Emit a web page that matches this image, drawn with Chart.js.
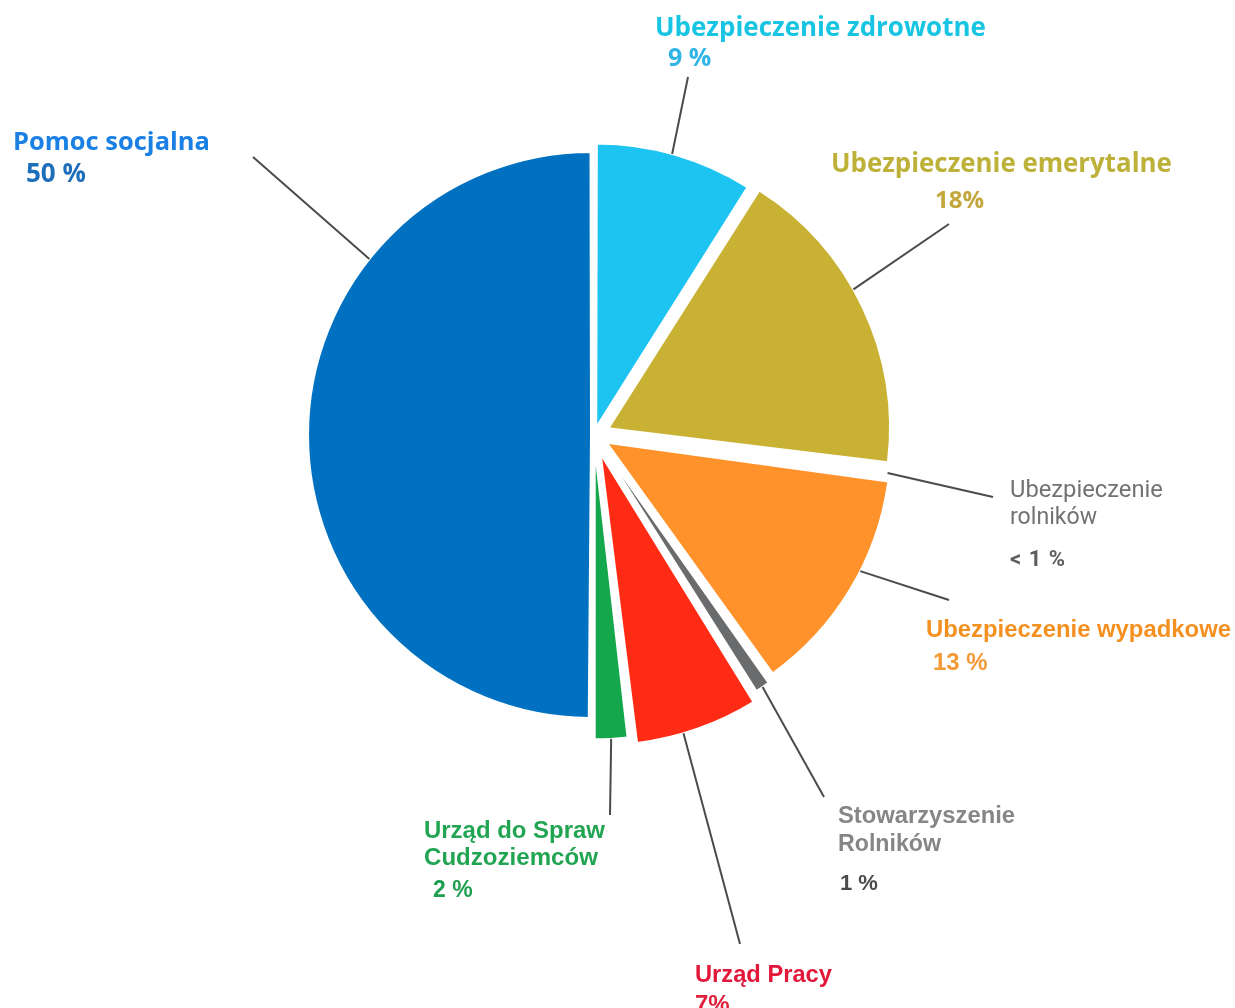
<!DOCTYPE html>
<html lang="pl">
<head>
<meta charset="utf-8">
<title>Struktura wydatków</title>
<script src="https://cdn.jsdelivr.net/npm/chart.js@4.4.1/dist/chart.umd.min.js"></script>
<style>
  html, body { margin: 0; padding: 0; background: #ffffff; }
  #wrap { width: 1235px; height: 1008px; overflow: hidden; }
  canvas { display: block; }
</style>
</head>
<body>
<div id="wrap"><canvas id="chart" width="1235" height="1008"></canvas></div>
<script>
// Categories, clockwise from 12 o'clock (multi-line names as arrays)
const categories = [
  ['Ubezpieczenie zdrowotne'],
  ['Ubezpieczenie emerytalne'],
  ['Ubezpieczenie', 'rolników'],
  ['Ubezpieczenie wypadkowe'],
  ['Stowarzyszenie', 'Rolników'],
  ['Urząd Pracy'],
  ['Urząd do Spraw', 'Cudzoziemców'],
  ['Pomoc socjalna']
];
// Shares in percent
const shares = [9, 18, 0.2, 13, 1, 7, 2, 50];
// Value captions as printed
const shareLabels = ['9 %', '18%', '< 1 %', '13 %', '1 %', '7%', '2 %', '50 %'];

// Slice fills (the sub-1 % slice is only a sliver of white space)
const sliceColors = ['#1ec4f1', '#c9b133', 'rgba(255,255,255,0)', '#ff922a', '#6a6b6d', '#ff2b14', '#14a74b', '#0071c1'];
const sliceBorders = ['#ffffff', '#ffffff', 'rgba(255,255,255,0)', '#ffffff', '#ffffff', '#ffffff', '#ffffff', '#ffffff'];
// How far each slice is pulled out (Chart.js offset units)
const sliceOffsets = [32, 64, 64, 60, 48, 80, 52, 12];

// Callout placement: anchor = fraction along the slice arc, end = outer end of leader line
const callouts = [
  { anchor: 0.48, end: [688, 77],
    lines: [{ x: 655, y: 36, w: 331, family: 'Open Sans', weight: 700, color: '#17c5e3' }],
    value: { x: 668, y: 66, size: 25, family: 'Open Sans', weight: 700, color: '#2fb4e6' } },
  { anchor: 0.435, end: [949, 224],
    lines: [{ x: 831, y: 172, w: 341, family: 'Open Sans', weight: 700, color: '#bdb13a' }],
    value: { x: 935, y: 208, size: 24, family: 'Open Sans', weight: 700, color: '#c3a73c' } },
  { anchor: 0.5, end: [993, 497], flush: true,
    lines: [{ x: 1010, y: 497, w: 153, family: 'Roboto', weight: 400, color: '#727272' },
            { x: 1010, y: 524, w: 87, family: 'Roboto', weight: 400, color: '#727272' }],
    value: { x: 1010, y: 566, size: 22, family: 'Roboto', weight: 700, color: '#5e5e5e', spacing: 1 } },
  { anchor: 0.41, end: [949, 600],
    lines: [{ x: 926, y: 637, w: 305, family: 'Liberation Sans', weight: 700, color: '#f3901f' }],
    value: { x: 933, y: 670, size: 24, family: 'Liberation Sans', weight: 700, color: '#f49a36' } },
  { anchor: 0.5, end: [824, 797],
    lines: [{ x: 838, y: 823, w: 177, family: 'Liberation Sans', weight: 700, color: '#868686' },
            { x: 838, y: 851, w: 103, family: 'Liberation Sans', weight: 700, color: '#868686' }],
    value: { x: 840, y: 890, size: 22, family: 'Liberation Sans', weight: 700, color: '#4a4a4a' } },
  { anchor: 0.615, end: [740, 944],
    lines: [{ x: 695, y: 982, w: 137, family: 'Liberation Sans', weight: 700, color: '#e3173a' }],
    value: { x: 695, y: 1012, size: 24, family: 'Liberation Sans', weight: 700, color: '#e0203a' } },
  { anchor: 0.5, end: [610, 815],
    lines: [{ x: 424, y: 838, w: 181, family: 'Liberation Sans', weight: 700, color: '#22a552' },
            { x: 424, y: 865, w: 174, family: 'Liberation Sans', weight: 700, color: '#22a552' }],
    value: { x: 433, y: 897, size: 23, family: 'Liberation Sans', weight: 700, color: '#1e9e4f' } },
  { anchor: 0.713, end: [253, 157],
    lines: [{ x: 13, y: 150, w: 197, family: 'Open Sans', weight: 700, color: '#1b80e4' }],
    value: { x: 26, y: 182, size: 26, family: 'Open Sans', weight: 700, color: '#1c6fb8' } }
];

function setFont(ctx, st, text) {
  let size = st.size;
  if (st.w) {
    ctx.font = `${st.weight} 100px "${st.family}"`;
    size = 100 * st.w / ctx.measureText(text).width;
  }
  ctx.font = `${st.weight} ${size.toFixed(2)}px "${st.family}"`;
}

// Leader lines and captions, anchored to the drawn (pulled-out) arcs
const calloutPlugin = {
  id: 'callouts',
  afterDatasetsDraw(chart) {
    const ctx = chart.ctx;
    const meta = chart.getDatasetMeta(0);
    meta.data.forEach((arc, i) => {
      const c = callouts[i];
      const p = arc.getProps(['x', 'y', 'startAngle', 'endAngle', 'outerRadius', 'circumference'], true);
      const t = (arc.options.offset || 0) / 4;
      const half = (p.startAngle + p.endAngle) / 2;
      const fix = 1 - Math.sin(Math.min(Math.PI, p.circumference));
      const r = p.outerRadius + (c.flush ? 0 : t * fix);
      const a = p.startAngle + c.anchor * (p.endAngle - p.startAngle);
      const ax = p.x + Math.cos(half) * t + Math.cos(a) * r;
      const ay = p.y + Math.sin(half) * t + Math.sin(a) * r;

      ctx.save();
      ctx.strokeStyle = '#4b4b4b';
      ctx.lineWidth = 2;
      ctx.beginPath();
      ctx.moveTo(ax, ay);
      ctx.lineTo(c.end[0], c.end[1]);
      ctx.stroke();

      ctx.textAlign = 'left';
      ctx.textBaseline = 'alphabetic';
      categories[i].forEach((txt, k) => {
        const st = c.lines[k];
        setFont(ctx, st, txt);
        ctx.fillStyle = st.color;
        ctx.fillText(txt, st.x, st.y);
      });
      const v = c.value;
      setFont(ctx, v, shareLabels[i]);
      ctx.fillStyle = v.color;
      if (v.spacing) ctx.letterSpacing = v.spacing + 'px';
      ctx.fillText(shareLabels[i], v.x, v.y);
      ctx.restore();
    });
  }
};

new Chart(document.getElementById('chart'), {
  type: 'pie',
  data: {
    labels: categories,
    datasets: [{
      data: shares,
      backgroundColor: sliceColors,
      borderColor: sliceBorders,
      borderWidth: 2,
      offset: sliceOffsets,
      radius: 280
    }]
  },
  options: {
    responsive: false,
    animation: false,
    events: [],
    rotation: 0,
    layout: { padding: { left: 0, right: 47, top: 0, bottom: 138 } },
    plugins: {
      legend: { display: false },
      tooltip: { enabled: false },
      title: { display: false }
    }
  },
  plugins: [calloutPlugin]
});
</script>
</body>
</html>
